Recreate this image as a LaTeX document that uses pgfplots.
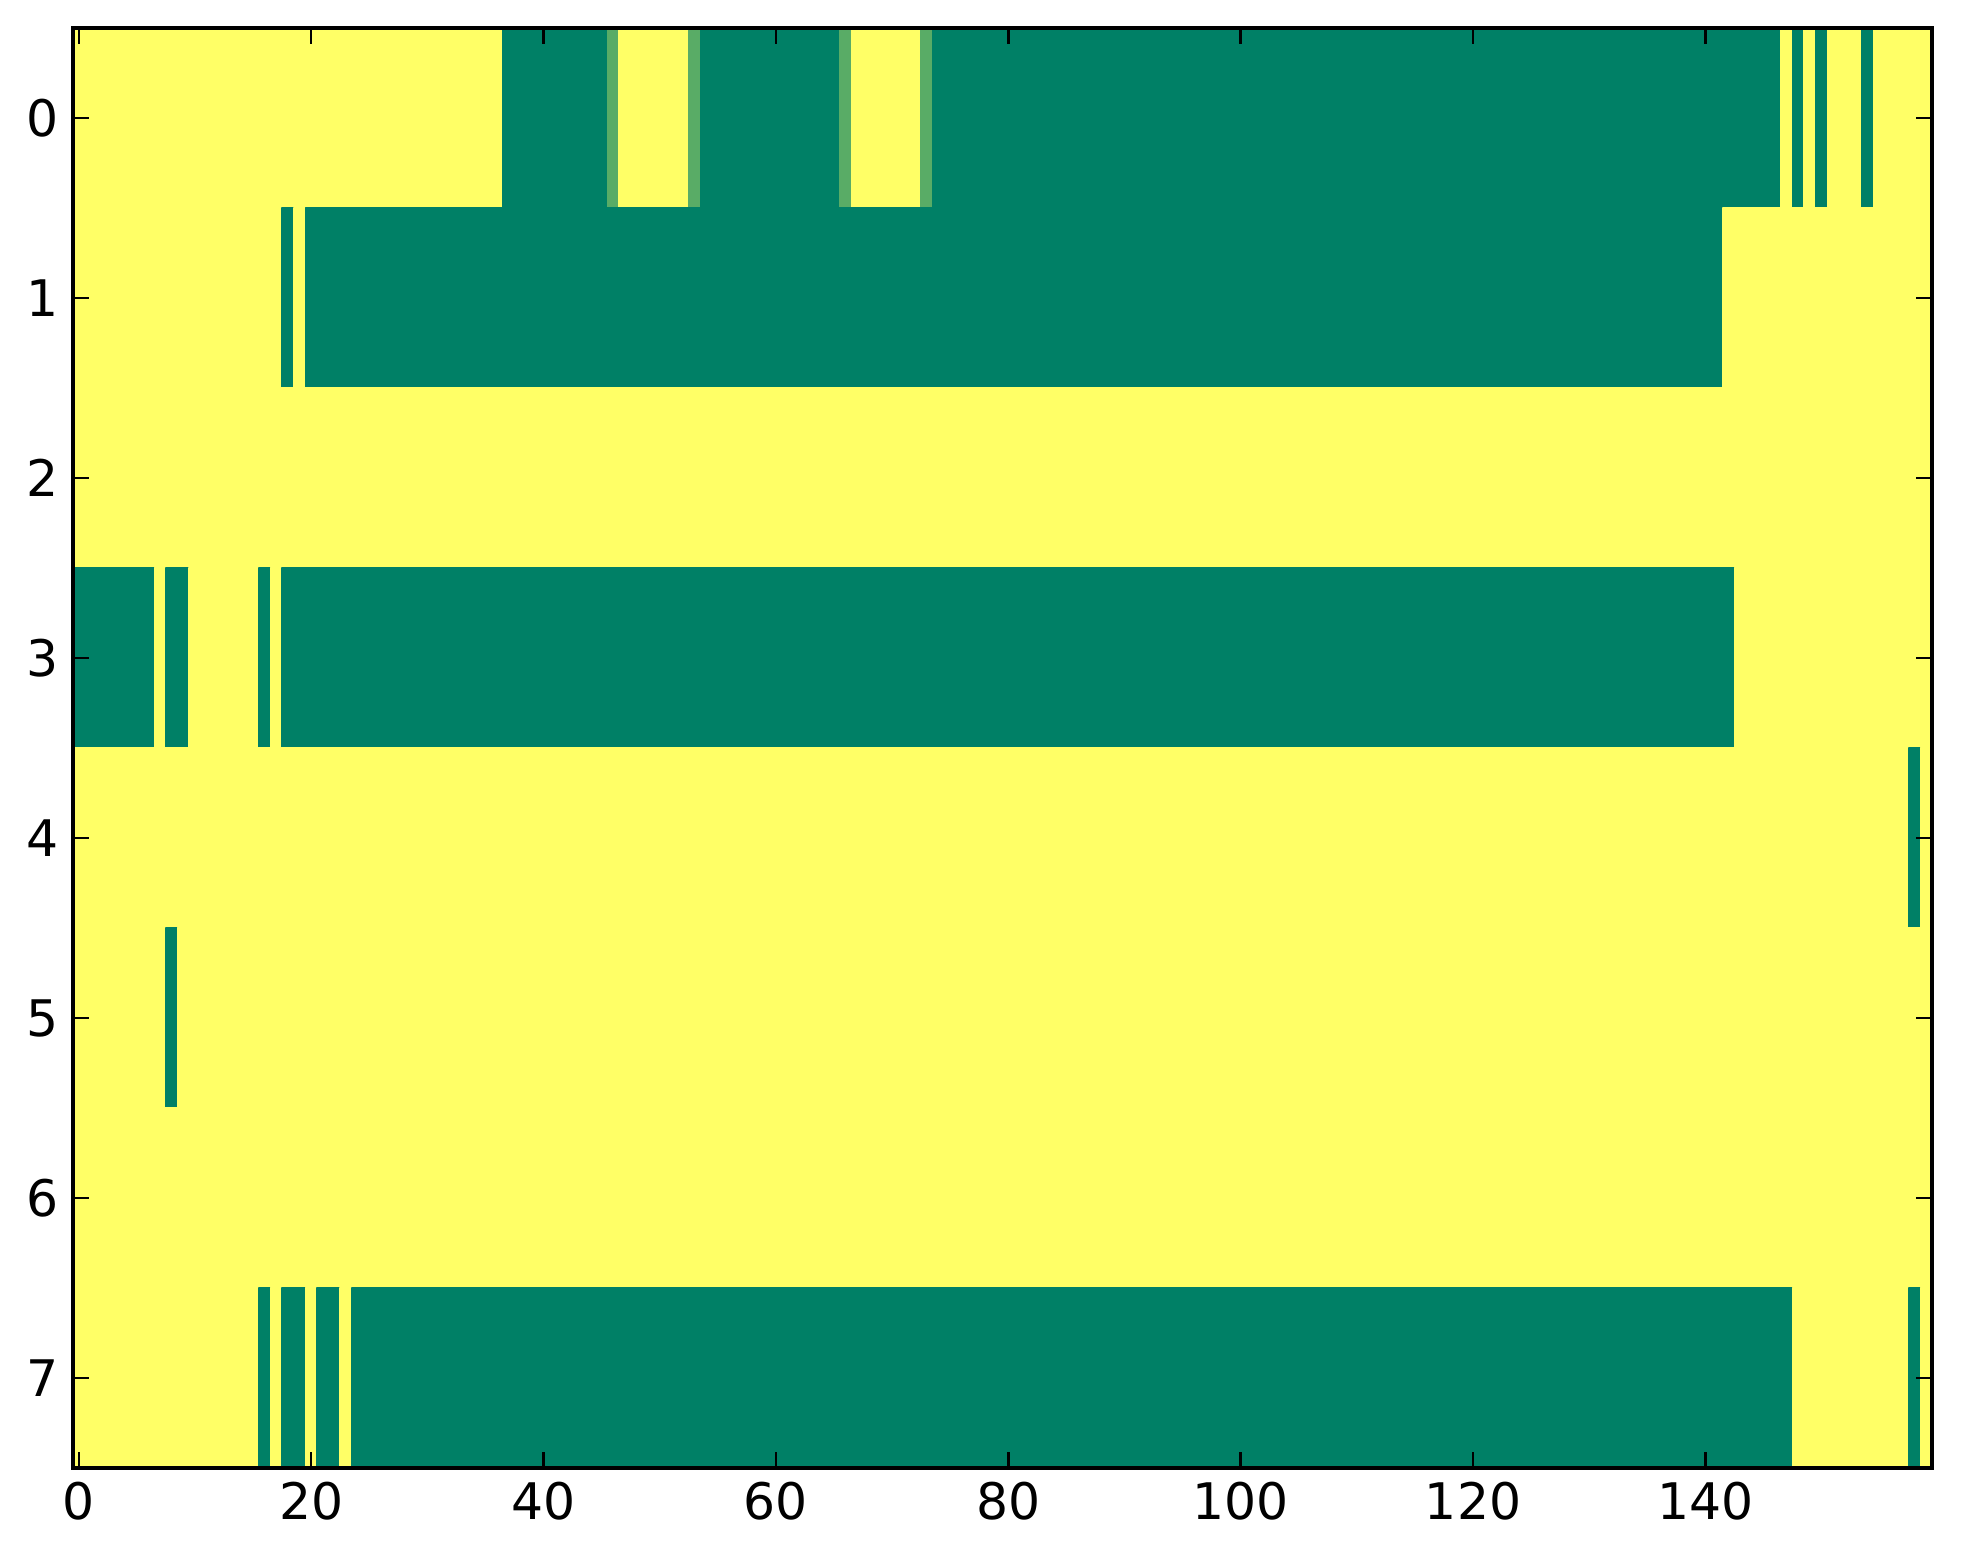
\documentclass[border=0pt]{standalone}
\usepackage{fontspec}
\setmainfont{DejaVu Sans}
\usepackage{pgfplots}
\pgfplotsset{compat=1.18}
\usepgfplotslibrary{patchplots}

% runs of equal cells, one rectangle each (four corners), value
\pgfplotstableread{
x y c
-0.5 -0.5 1
36.5 -0.5 1
36.5 0.5 1
-0.5 0.5 1
36.5 -0.5 0
45.5 -0.5 0
45.5 0.5 0
36.5 0.5 0
45.5 -0.5 0.345
46.5 -0.5 0.345
46.5 0.5 0.345
45.5 0.5 0.345
46.5 -0.5 1
52.5 -0.5 1
52.5 0.5 1
46.5 0.5 1
52.5 -0.5 0.345
53.5 -0.5 0.345
53.5 0.5 0.345
52.5 0.5 0.345
53.5 -0.5 0
65.5 -0.5 0
65.5 0.5 0
53.5 0.5 0
65.5 -0.5 0.345
66.5 -0.5 0.345
66.5 0.5 0.345
65.5 0.5 0.345
66.5 -0.5 1
72.5 -0.5 1
72.5 0.5 1
66.5 0.5 1
72.5 -0.5 0.345
73.5 -0.5 0.345
73.5 0.5 0.345
72.5 0.5 0.345
73.5 -0.5 0
146.5 -0.5 0
146.5 0.5 0
73.5 0.5 0
146.5 -0.5 1
147.5 -0.5 1
147.5 0.5 1
146.5 0.5 1
147.5 -0.5 0
148.5 -0.5 0
148.5 0.5 0
147.5 0.5 0
148.5 -0.5 1
149.5 -0.5 1
149.5 0.5 1
148.5 0.5 1
149.5 -0.5 0
150.5 -0.5 0
150.5 0.5 0
149.5 0.5 0
150.5 -0.5 1
153.5 -0.5 1
153.5 0.5 1
150.5 0.5 1
153.5 -0.5 0
154.5 -0.5 0
154.5 0.5 0
153.5 0.5 0
154.5 -0.5 1
159.5 -0.5 1
159.5 0.5 1
154.5 0.5 1
-0.5 0.5 1
17.5 0.5 1
17.5 1.5 1
-0.5 1.5 1
17.5 0.5 0
18.5 0.5 0
18.5 1.5 0
17.5 1.5 0
18.5 0.5 1
19.5 0.5 1
19.5 1.5 1
18.5 1.5 1
19.5 0.5 0
141.5 0.5 0
141.5 1.5 0
19.5 1.5 0
141.5 0.5 1
159.5 0.5 1
159.5 1.5 1
141.5 1.5 1
-0.5 1.5 1
159.5 1.5 1
159.5 2.5 1
-0.5 2.5 1
-0.5 2.5 0
6.5 2.5 0
6.5 3.5 0
-0.5 3.5 0
6.5 2.5 1
7.5 2.5 1
7.5 3.5 1
6.5 3.5 1
7.5 2.5 0
9.5 2.5 0
9.5 3.5 0
7.5 3.5 0
9.5 2.5 1
15.5 2.5 1
15.5 3.5 1
9.5 3.5 1
15.5 2.5 0
16.5 2.5 0
16.5 3.5 0
15.5 3.5 0
16.5 2.5 1
17.5 2.5 1
17.5 3.5 1
16.5 3.5 1
17.5 2.5 0
142.5 2.5 0
142.5 3.5 0
17.5 3.5 0
142.5 2.5 1
159.5 2.5 1
159.5 3.5 1
142.5 3.5 1
-0.5 3.5 1
157.5 3.5 1
157.5 4.5 1
-0.5 4.5 1
157.5 3.5 0
158.5 3.5 0
158.5 4.5 0
157.5 4.5 0
158.5 3.5 1
159.5 3.5 1
159.5 4.5 1
158.5 4.5 1
-0.5 4.5 1
7.5 4.5 1
7.5 5.5 1
-0.5 5.5 1
7.5 4.5 0
8.5 4.5 0
8.5 5.5 0
7.5 5.5 0
8.5 4.5 1
159.5 4.5 1
159.5 5.5 1
8.5 5.5 1
-0.5 5.5 1
159.5 5.5 1
159.5 6.5 1
-0.5 6.5 1
-0.5 6.5 1
15.5 6.5 1
15.5 7.5 1
-0.5 7.5 1
15.5 6.5 0
16.5 6.5 0
16.5 7.5 0
15.5 7.5 0
16.5 6.5 1
17.5 6.5 1
17.5 7.5 1
16.5 7.5 1
17.5 6.5 0
19.5 6.5 0
19.5 7.5 0
17.5 7.5 0
19.5 6.5 1
20.5 6.5 1
20.5 7.5 1
19.5 7.5 1
20.5 6.5 0
22.5 6.5 0
22.5 7.5 0
20.5 7.5 0
22.5 6.5 1
23.5 6.5 1
23.5 7.5 1
22.5 7.5 1
23.5 6.5 0
147.5 6.5 0
147.5 7.5 0
23.5 7.5 0
147.5 6.5 1
157.5 6.5 1
157.5 7.5 1
147.5 7.5 1
157.5 6.5 0
158.5 6.5 0
158.5 7.5 0
157.5 7.5 0
158.5 6.5 1
159.5 6.5 1
159.5 7.5 1
158.5 7.5 1
}\cells

\begin{document}
\begin{tikzpicture}
\begin{axis}[
    scale only axis,
    width=464.75pt, height=360pt,
    xmin=-0.5, xmax=159.5,
    ymin=-0.5, ymax=7.5,
    y dir=reverse,
    enlargelimits=false,
    axis on top,
    axis line style={line width=1pt},
    major tick length=4pt,
    tick style={line width=0.6pt, black},
    xtick={0,20,...,140},
    ytick={0,...,7},
    ticklabel style={font=\fontsize{12.6}{15}\selectfont},
    /pgf/number format/assume math mode=true,
    colormap={summer}{rgb=(0,0.5,0.4) rgb=(1,1,0.4)},
    point meta min=0, point meta max=1,
]
  \addplot[patch, patch type=rectangle, shader=flat, draw=none,
    point meta=explicit] table[x=x, y=y, meta=c] {\cells};
\end{axis}
\path (current axis.south west) ++(-18.25pt,-23.75pt) coordinate (bbsw);
\path (current axis.north east) ++(7.75pt,7pt) coordinate (bbne);
\useasboundingbox (bbsw) rectangle (bbne);
\end{tikzpicture}
\end{document}
